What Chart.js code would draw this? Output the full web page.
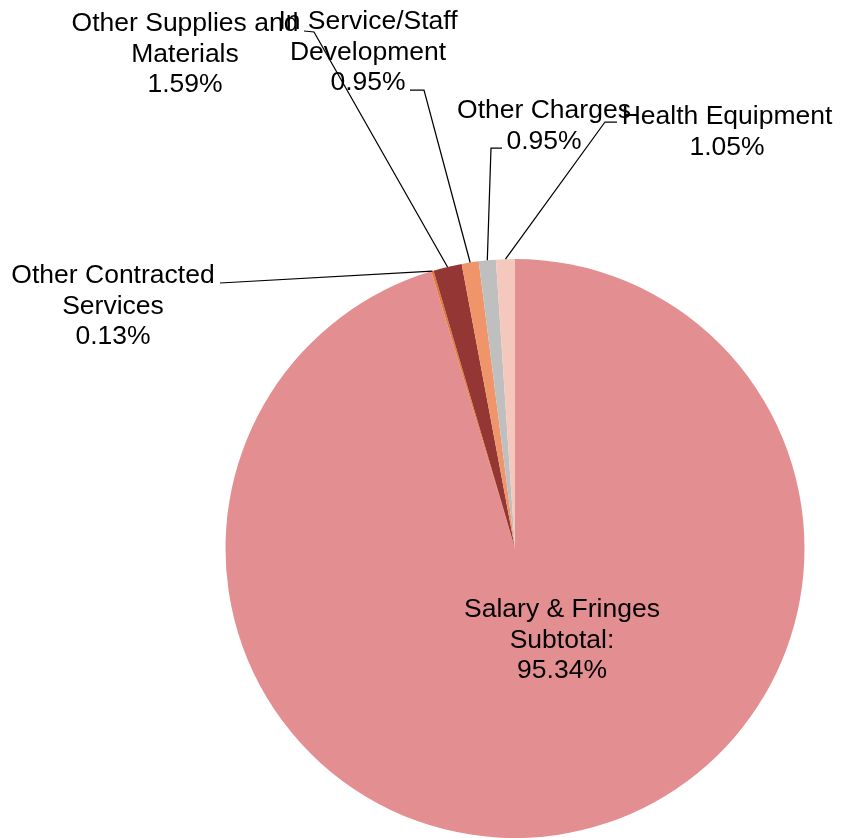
<!DOCTYPE html>
<html>
<head>
<meta charset="utf-8">
<script src="https://cdn.jsdelivr.net/npm/chart.js@4/dist/chart.umd.min.js"></script>
<style>
  body { margin: 0; background: #fff; }
  #wrap { width: 846px; height: 838px; position: relative; }
</style>
</head>
<body>
<div id="wrap"><canvas id="grafico"></canvas></div>
<script>
// datos del grafico (orden en sentido horario desde arriba)
const categorias = [
    ["Salary & Fringes", "Subtotal:"],
    ["Other Contracted", "Services"],
    ["Other Supplies and", "Materials"],
    ["In Service/Staff", "Development"],
    ["Other Charges"],
    ["Health Equipment"]
];
const porcentajes = [95.34, 0.13, 1.59, 0.95, 0.95, 1.05];
const colores = ["#E38E90", "#E07B39", "#943634", "#F09469", "#BFBFBF", "#F4C8BD"];

// posicion de las etiquetas: centro del texto, primera linea base, codo de la linea guia
const etiquetas = [
    { x: 562, y: 617, codo: null },
    { x: 113, y: 283, codo: [[220, 283]] },
    { x: 185, y: 31, codo: [[304, 31], [314, 32]] },
    { x: 368, y: 29, codo: [[410, 90], [424, 90]] },
    { x: 544, y: 118, codo: [[502, 148], [491, 148]] },
    { x: 727, y: 124, codo: [[617, 122], [605, 122]] }
];

const etiquetasPlugin = {
    id: "etiquetas",
    afterDraw(chart) {
        const ctx = chart.ctx;
        const arcos = chart.getDatasetMeta(0).data;
        ctx.save();
        // lineas guia
        ctx.strokeStyle = "#000";
        ctx.lineWidth = 1.25;
        arcos.forEach((arco, i) => {
            const e = etiquetas[i];
            if (!e.codo) return;
            const p = arco.getProps(["x", "y", "startAngle", "endAngle", "outerRadius"], true);
            const medio = (p.startAngle + p.endAngle) / 2;
            const px = p.x + Math.cos(medio) * p.outerRadius;
            const py = p.y + Math.sin(medio) * p.outerRadius;
            ctx.beginPath();
            ctx.moveTo(e.codo[0][0], e.codo[0][1]);
            for (let k = 1; k < e.codo.length; k++) ctx.lineTo(e.codo[k][0], e.codo[k][1]);
            ctx.lineTo(px, py);
            ctx.stroke();
        });
        // textos
        ctx.fillStyle = "#000";
        ctx.font = "26.5px 'Liberation Sans', Arial, sans-serif";
        ctx.textAlign = "center";
        ctx.textBaseline = "alphabetic";
        arcos.forEach((arco, i) => {
            const e = etiquetas[i];
            const lineas = categorias[i].concat([porcentajes[i].toFixed(2) + "%"]);
            lineas.forEach((t, k) => ctx.fillText(t, e.x, e.y + k * 30.5));
        });
        ctx.restore();
    }
};

new Chart(document.getElementById("grafico").getContext("2d"), {
    type: "pie",
    data: {
        labels: categorias.map(c => c.join(" ")),
        datasets: [{
            data: porcentajes,
            backgroundColor: colores,
            borderWidth: 0
        }]
    },
    options: {
        responsive: true,
        maintainAspectRatio: false,
        animation: false,
        layout: { padding: { left: 225, right: 41, top: 259, bottom: -1 } },
        plugins: {
            legend: { display: false },
            tooltip: { enabled: false }
        }
    },
    plugins: [etiquetasPlugin]
});
</script>
</body>
</html>
